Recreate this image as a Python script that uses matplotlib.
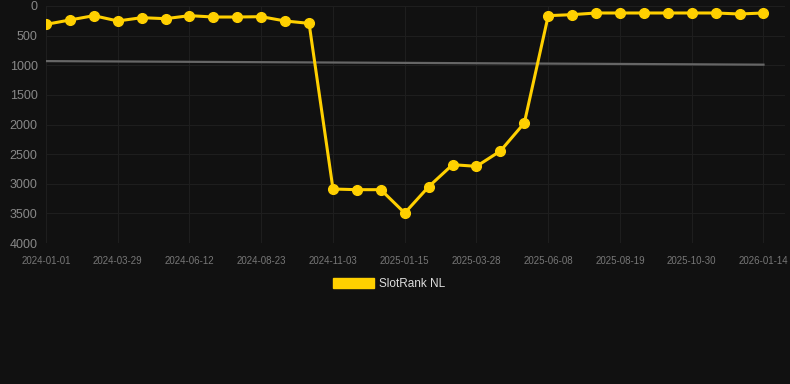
import numpy as np
import matplotlib
matplotlib.use("Agg")
import matplotlib.pyplot as plt
from matplotlib.patches import Patch

plt.rcParams['font.family'] = ['Liberation Sans', 'DejaVu Sans']

dates = ["2024-01-01", "", "", "2024-03-29", "", "", "2024-06-12", "", "",
         "2024-08-23", "", "", "2024-11-03", "", "", "2025-01-15", "", "",
         "2025-03-28", "", "", "2025-06-08", "", "", "2025-08-19", "", "",
         "2025-10-30", "", "", "2026-01-14"]
rank = [310, 236, 163, 253, 197, 214, 163, 186, 186, 180, 253, 293,
        3089, 3100, 3100, 3494, 3050, 2678, 2706, 2447, 1975,
        163, 146, 118, 118, 118, 118, 118, 118, 135, 118]
trend_start = 930
trend_end = 990

bg = "#111111"
yellow = "#FFD000"

fig = plt.figure(figsize=(7.9, 3.84), dpi=100, facecolor=bg)
ax = fig.add_axes([46/790, 1-243/384, (785-46)/790, (243-6)/384])
ax.set_facecolor(bg)

x = np.arange(len(rank))
ax.plot([x[0], x[-1]], [trend_start, trend_end], color="#666666", lw=1.6, zorder=2)
ax.plot(x, rank, color=yellow, lw=2.2, marker="o", ms=7, zorder=3)

ax.set_xlim(0, 30.9)
ax.set_ylim(4000, 0)
tick_idx = [i for i, d in enumerate(dates) if d]
ax.set_xticks(tick_idx)
ax.set_xticklabels([dates[i] for i in tick_idx])
ax.set_yticks(np.arange(0, 4001, 500))
ax.tick_params(axis="x", colors="#777777", labelsize=7, length=0, pad=9)
ax.tick_params(axis="y", colors="#888888", labelsize=9, length=0, pad=6)
ax.grid(True, color="#1f1f1f", lw=0.7)
for s in ax.spines.values():
    s.set_visible(False)

fig.legend(handles=[Patch(color=yellow, label="SlotRank NL")],
           loc="center", bbox_to_anchor=(389.5/790, 1-284/384), frameon=False,
           labelcolor="#dddddd", fontsize=8.5, handlelength=3.4, handleheight=0.9,
           handletextpad=0.5)

fig.savefig("out.png", dpi=100, facecolor=bg)
